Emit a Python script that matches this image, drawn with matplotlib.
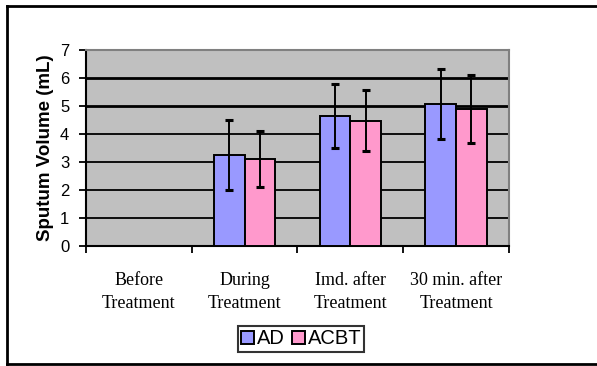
import numpy as np
import matplotlib.pyplot as plt
from matplotlib.lines import Line2D

# data
categories = ['Before\nTreatment', 'During\nTreatment', 'Imd. after\nTreatment', '30 min. after\nTreatment']
ad_mean = [np.nan, 3.25, 4.64, 5.07]
ad_err = [np.nan, 1.25, 1.13, 1.24]
acbt_mean = [np.nan, 3.12, 4.48, 4.90]
acbt_err = [np.nan, 1.00, 1.10, 1.22]
series_names = ['AD', 'ACBT']


def draw_chart():
    fig = plt.figure(figsize=(5.97, 3.66), dpi=100)
    ax = fig.add_axes([0.144, 0.3279, 0.7086, 0.5355])
    ax.set_facecolor('#C0C0C0')

    x = np.arange(len(categories))
    w = 0.29
    ax.bar(x - w / 2, ad_mean, w, color='#9999FF', edgecolor='black', linewidth=1.4,
           label=series_names[0], zorder=3)
    ax.bar(x + w / 2, acbt_mean, w, color='#FF99CC', edgecolor='black', linewidth=1.4,
           label=series_names[1], zorder=3)
    ax.errorbar(x - w / 2, ad_mean, yerr=ad_err, fmt='none', ecolor='black',
                elinewidth=1.4, capsize=3, capthick=2.2, zorder=4)
    ax.errorbar(x + w / 2, acbt_mean, yerr=acbt_err, fmt='none', ecolor='black',
                elinewidth=1.4, capsize=3, capthick=2.2, zorder=4)

    # gridlines (the 5 and 6 lines look heavier in the original)
    for v in range(1, 7):
        lw = 2.0 if v >= 5 else 1.3
        ax.axhline(v, color='black', linewidth=lw, zorder=1)

    ax.set_xlim(-0.5, 3.5)
    ax.set_ylim(0, 7)
    ax.set_yticks(range(0, 8))
    ax.tick_params(axis='y', direction='out', length=5, width=1.3, pad=7, labelsize=12)
    for t in ax.get_yticklabels():
        t.set_fontfamily('Liberation Sans')

    ax.set_xticks(x)
    ax.set_xticklabels(categories, fontfamily='Liberation Serif', fontsize=13, linespacing=1.4)
    ax.tick_params(axis='x', which='major', length=0, pad=19)
    ax.set_xticks(np.arange(-0.5, 4, 1), minor=True)
    ax.tick_params(axis='x', which='minor', direction='out', length=5, width=1.3)

    ax.set_ylabel('Sputum Volume (mL)', fontfamily='Liberation Sans', fontweight='bold',
                  fontsize=13.5, labelpad=4)

    for side in ['top', 'right']:
        ax.spines[side].set_color('#808080')
        ax.spines[side].set_linewidth(1.5)
    for side in ['left', 'bottom']:
        ax.spines[side].set_color('black')
        ax.spines[side].set_linewidth(1.5)

    leg = fig.legend(loc='center', bbox_to_anchor=(301 / 597, 1 - 339 / 366), ncol=2,
                     frameon=True, fancybox=False, edgecolor='black',
                     prop={'family': 'Liberation Sans', 'size': 14.5},
                     handlelength=0.65, handleheight=0.65, handletextpad=0.15,
                     columnspacing=0.35, borderpad=0.15, borderaxespad=0)
    leg.get_frame().set_linewidth(1.5)

    # outer chart border (right edge is cut off in the original)
    fx = 6.5 / 597
    fy_top = 1 - 5.5 / 366
    fy_bot = 1 - 363.5 / 366
    for xs, ys in [([fx, 1], [fy_top, fy_top]), ([fx, fx], [fy_top, fy_bot]), ([fx, 1], [fy_bot, fy_bot])]:
        fig.add_artist(Line2D(xs, ys, color='black', linewidth=2, transform=fig.transFigure))

    fig.savefig('out.png', dpi=100)


if __name__ == '__main__':
    draw_chart()
